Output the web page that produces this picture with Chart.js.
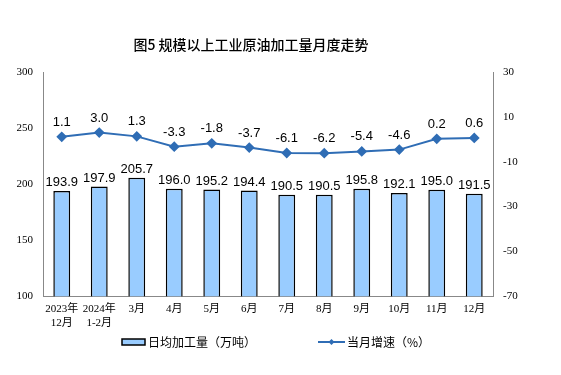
<!DOCTYPE html>
<html>
<head>
<meta charset="utf-8">
<script src="https://cdn.jsdelivr.net/npm/chart.js@4"></script>
<style>
  html, body { margin: 0; padding: 0; background: #fff; }
  #wrap { position: relative; width: 561px; height: 375px; }
</style>
</head>
<body>
<div id="wrap"><canvas id="chart" width="561" height="375"></canvas></div>
<script>
// Data
const months = [['2023年', '12月'], ['2024年', '1-2月'], '3月', '4月', '5月', '6月', '7月', '8月', '9月', '10月', '11月', '12月'];
const dailyOutput = [193.9, 197.9, 205.7, 196.0, 195.2, 194.4, 190.5, 190.5, 195.8, 192.1, 195.0, 191.5];
const growthRate = [1.1, 3.0, 1.3, -3.3, -1.8, -3.7, -6.1, -6.2, -5.4, -4.6, 0.2, 0.6];
const leftTicks = [100, 150, 200, 250, 300];
const rightTicks = [-70, -50, -30, -10, 10, 30];

const chartTitle = '图5 规模以上工业原油加工量月度走势';
const tickFont = { family: '"Liberation Serif", "Noto Sans CJK SC", serif', size: 11, lineHeight: 1.35 };
const lineColor = '#2F6DB5';
const barFill = '#99CCFF';

// Value labels above each bar and point
const valueLabels = {
    id: 'valueLabels',
    afterDatasetsDraw(chart) {
        const ctx = chart.ctx;
        ctx.save();
        ctx.font = '13px "Liberation Sans", Arial, sans-serif';
        ctx.fillStyle = '#000';
        ctx.textAlign = 'center';
        ctx.textBaseline = 'bottom';
        chart.data.datasets.forEach((ds, i) => {
            chart.getDatasetMeta(i).data.forEach((el, j) => {
                const off = ds.type === 'line' ? 8 : 2;
                ctx.fillText(ds.data[j].toFixed(1), el.x, el.y - off);
            });
        });
        ctx.restore();
    }
};

// Title and legend laid out like the original
const decorations = {
    id: 'decorations',
    afterDraw(chart) {
        const ctx = chart.ctx;
        ctx.save();
        ctx.fillStyle = '#000';
        ctx.textBaseline = 'middle';
        ctx.textAlign = 'center';
        ctx.font = '500 14px "Noto Sans CJK SC", sans-serif';
        ctx.fillText(chartTitle, 251, 45);

        const y = 342;
        ctx.textAlign = 'left';
        ctx.font = '12px "Noto Sans CJK SC", sans-serif';
        // bar swatch
        ctx.fillStyle = barFill;
        ctx.fillRect(122, y - 3, 23, 6);
        ctx.strokeStyle = '#000';
        ctx.lineWidth = 1.5;
        ctx.strokeRect(122, y - 3, 23, 6);
        ctx.fillStyle = '#000';
        ctx.fillText(chart.data.datasets[1].label, 148, y);
        // line sample
        ctx.strokeStyle = lineColor;
        ctx.lineWidth = 2;
        ctx.beginPath();
        ctx.moveTo(318, y);
        ctx.lineTo(345, y);
        ctx.stroke();
        ctx.fillStyle = lineColor;
        ctx.beginPath();
        ctx.moveTo(331.5, y - 3);
        ctx.lineTo(334.5, y);
        ctx.lineTo(331.5, y + 3);
        ctx.lineTo(328.5, y);
        ctx.closePath();
        ctx.fill();
        ctx.fillStyle = '#000';
        ctx.fillText(chart.data.datasets[0].label, 347, y);
        ctx.restore();
    }
};

new Chart(document.getElementById('chart'), {
    data: {
        labels: months,
        datasets: [
            {
                type: 'line',
                label: '当月增速（%）',
                data: growthRate,
                yAxisID: 'y2',
                borderColor: lineColor,
                backgroundColor: lineColor,
                borderWidth: 2,
                pointStyle: 'rectRot',
                pointRadius: 4,
                tension: 0,
                order: 0
            },
            {
                type: 'bar',
                label: '日均加工量（万吨）',
                data: dailyOutput,
                yAxisID: 'y',
                backgroundColor: barFill,
                borderColor: '#000',
                borderWidth: 1.5,
                categoryPercentage: 1,
                barPercentage: 0.45,
                order: 1
            }
        ]
    },
    options: {
        responsive: false,
        animation: false,
        layout: { padding: { top: 72, left: 6, right: 28, bottom: 43 } },
        plugins: {
            title: { display: false },
            legend: { display: false },
            tooltip: { enabled: false }
        },
        scales: {
            x: {
                grid: { display: false, drawTicks: true, tickLength: 4 },
                border: { color: '#888' },
                ticks: { color: '#000', font: tickFont, maxRotation: 0, padding: 1 }
            },
            y: {
                position: 'left',
                min: 100,
                max: 300,
                afterBuildTicks(axis) { axis.ticks = leftTicks.map(v => ({ value: v })); },
                afterFit(axis) { axis.width = 37; },
                grid: { display: false, tickLength: 4 },
                border: { color: '#888' },
                ticks: { color: '#000', font: tickFont, padding: 6 }
            },
            y2: {
                position: 'right',
                min: -70,
                max: 30,
                afterBuildTicks(axis) { axis.ticks = rightTicks.map(v => ({ value: v })); },
                afterFit(axis) { axis.width = 40; },
                grid: { display: false, tickLength: 4 },
                border: { color: '#888' },
                ticks: { color: '#000', font: tickFont, padding: 6 }
            }
        }
    },
    plugins: [valueLabels, decorations]
});
</script>
</body>
</html>
